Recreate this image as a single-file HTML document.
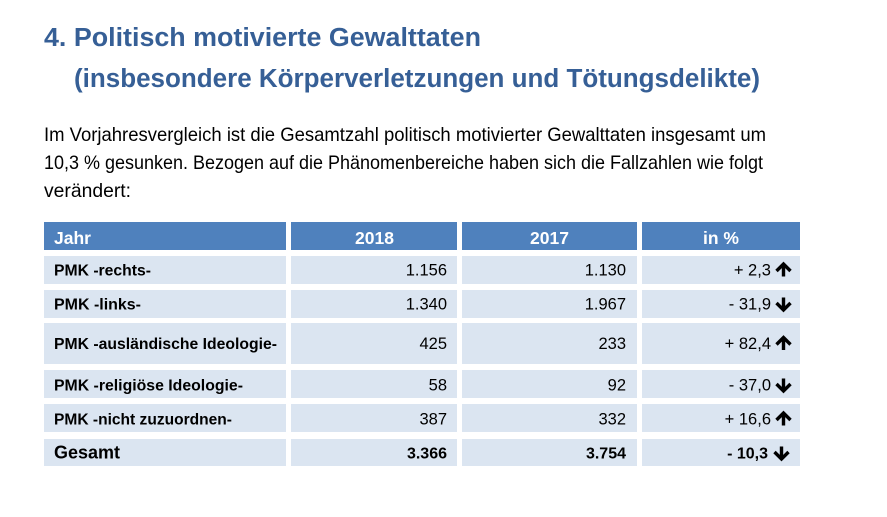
<!DOCTYPE html>
<html><head><meta charset="utf-8"><style>
html,body{margin:0;padding:0;background:#fff;width:887px;height:517px;overflow:hidden}
svg{display:block}
.t{font-family:"Liberation Sans",sans-serif;font-weight:bold;fill:#365f96;font-size:25.5px}
.b{font-family:"Liberation Sans",sans-serif;fill:#000;font-size:19.5px}
.h{font-family:"Liberation Sans",sans-serif;font-weight:bold;fill:#fff;font-size:17.5px}
.l{font-family:"Liberation Sans",sans-serif;font-weight:bold;fill:#000;font-size:15.5px}
.n{font-family:"Liberation Sans",sans-serif;fill:#000;font-size:16.5px}
.nb{font-family:"Liberation Sans",sans-serif;font-weight:bold;fill:#000;font-size:16px}
.g{font-family:"Liberation Sans",sans-serif;font-weight:bold;fill:#000;font-size:18px}
</style></head><body>
<svg width="887" height="517" viewBox="0 0 887 517" xmlns="http://www.w3.org/2000/svg">
<rect width="887" height="517" fill="#fff"/>
<text class="t" x="44" y="46" textLength="437" lengthAdjust="spacingAndGlyphs">4. Politisch motivierte Gewalttaten</text>
<text class="t" x="74" y="87" textLength="686" lengthAdjust="spacingAndGlyphs">(insbesondere Körperverletzungen und Tötungsdelikte)</text>
<text class="b" x="44" y="141" textLength="722" lengthAdjust="spacingAndGlyphs">Im Vorjahresvergleich ist die Gesamtzahl politisch motivierter Gewalttaten insgesamt um</text>
<text class="b" x="44" y="169" textLength="719" lengthAdjust="spacingAndGlyphs">10,3 % gesunken. Bezogen auf die Phänomenbereiche haben sich die Fallzahlen wie folgt</text>
<text class="b" x="44" y="197" textLength="87" lengthAdjust="spacingAndGlyphs">verändert:</text>

<g fill="#4f81bd">
<rect x="44" y="222" width="242" height="28"/>
<rect x="291" y="222" width="166" height="28"/>
<rect x="462" y="222" width="175" height="28"/>
<rect x="642" y="222" width="158" height="28"/>
</g>
<g fill="#dbe5f1">
<rect x="44" y="256" width="242" height="28"/><rect x="291" y="256" width="166" height="28"/><rect x="462" y="256" width="175" height="28"/><rect x="642" y="256" width="158" height="28"/>
<rect x="44" y="290" width="242" height="28"/><rect x="291" y="290" width="166" height="28"/><rect x="462" y="290" width="175" height="28"/><rect x="642" y="290" width="158" height="28"/>
<rect x="44" y="323" width="242" height="41"/><rect x="291" y="323" width="166" height="41"/><rect x="462" y="323" width="175" height="41"/><rect x="642" y="323" width="158" height="41"/>
<rect x="44" y="370" width="242" height="28"/><rect x="291" y="370" width="166" height="28"/><rect x="462" y="370" width="175" height="28"/><rect x="642" y="370" width="158" height="28"/>
<rect x="44" y="404" width="242" height="28"/><rect x="291" y="404" width="166" height="28"/><rect x="462" y="404" width="175" height="28"/><rect x="642" y="404" width="158" height="28"/>
<rect x="44" y="439" width="242" height="27"/><rect x="291" y="439" width="166" height="27"/><rect x="462" y="439" width="175" height="27"/><rect x="642" y="439" width="158" height="27"/>
</g>

<text class="h" x="54" y="244">Jahr</text>
<text class="h" x="374.5" y="244" text-anchor="middle">2018</text>
<text class="h" x="549.5" y="244" text-anchor="middle">2017</text>
<text class="h" x="721" y="244" text-anchor="middle">in %</text>

<text class="l" x="54" y="275.5" textLength="97" lengthAdjust="spacingAndGlyphs">PMK -rechts-</text>
<text class="l" x="54" y="309.5" textLength="87" lengthAdjust="spacingAndGlyphs">PMK -links-</text>
<text class="l" x="54" y="349" textLength="223" lengthAdjust="spacingAndGlyphs">PMK -ausländische Ideologie-</text>
<text class="l" x="54" y="390.5" textLength="189" lengthAdjust="spacingAndGlyphs">PMK -religiöse Ideologie-</text>
<text class="l" x="54" y="424.5" textLength="178" lengthAdjust="spacingAndGlyphs">PMK -nicht zuzuordnen-</text>
<text class="g" x="54" y="458.5">Gesamt</text>

<g text-anchor="end">
<text class="n" x="447" y="275.5">1.156</text>
<text class="n" x="447" y="309.5">1.340</text>
<text class="n" x="447" y="349">425</text>
<text class="n" x="447" y="390.5">58</text>
<text class="n" x="447" y="424.5">387</text>
<text class="nb" x="447" y="458.5">3.366</text>

<text class="n" x="626" y="275.5">1.130</text>
<text class="n" x="626" y="309.5">1.967</text>
<text class="n" x="626" y="349">233</text>
<text class="n" x="626" y="390.5">92</text>
<text class="n" x="626" y="424.5">332</text>
<text class="nb" x="626" y="458.5">3.754</text>

<text class="n" x="771" y="275.5">+ 2,3</text>
<text class="n" x="771" y="309.5">- 31,9</text>
<text class="n" x="771" y="349">+ 82,4</text>
<text class="n" x="771" y="390.5">- 37,0</text>
<text class="n" x="771" y="424.5">+ 16,6</text>
<text class="nb" x="768" y="458.5">- 10,3</text>
</g>

<g fill="none" stroke="#000" stroke-width="3.4" stroke-linejoin="miter" stroke-linecap="butt">
<path d="M783.5 264 V276.5 M776.5 271 L783.5 264 L790.5 271"/>
<path d="M783.5 337.5 V350 M776.5 344.5 L783.5 337.5 L790.5 344.5"/>
<path d="M783.5 413 V425.5 M776.5 420 L783.5 413 L790.5 420"/>
<path d="M783.5 297.5 V310 M776.5 303 L783.5 310 L790.5 303"/>
<path d="M783.5 378.5 V391 M776.5 384 L783.5 391 L790.5 384"/>
<path d="M781.5 446.5 V459 M774.5 452 L781.5 459 L788.5 452"/>
</g>
</svg>
</body></html>
